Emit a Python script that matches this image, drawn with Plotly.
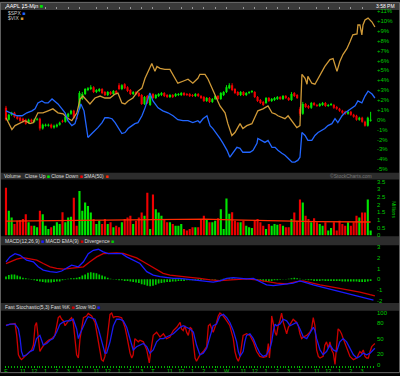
import plotly.graph_objects as go

# ---------------- data ----------------
N = 130
IDX = list(range(N))

TICK_VALS = [0, 6, 10, 14, 18, 22, 26, 32, 36, 40, 44, 48, 52, 58, 62, 66, 70, 74,
             78, 84, 88, 92, 96, 100, 104, 110, 114, 118, 122, 126]
TICK_TEXT = ["F", "11", "12", "1", "2", "3", "M", "11", "12", "1", "2", "3",
             "T", "11", "12", "1", "2", "3", "W", "11", "12", "1", "2", "3",
             "T", "11", "12", "1", "2", "3"]

AAPL_OPEN = [1.2, 0.0, 0.5, 0.7, 0.3, 0.2, 0.1, 0.0, -0.3, 0.0, -0.2, 0.0, 0.1, -0.9, -0.6, -0.6, -0.5, -0.8, -0.7, -0.5,
             -0.1, -0.2, 0.3, 0.6, 0.9, 0.2, 1.1, 2.1, 2.6, 3.0, 3.1, 3.3, 2.8, 2.9, 3.1, 2.8, 2.5, 2.8, 2.6, 2.9,
             3.5, 3.1, 3.6, 3.3, 3.0, 2.6, 2.8, 2.7, 2.5, 1.6, 2.4, 1.5, 2.6, 2.2, 2.4, 2.5, 2.7, 2.5, 2.3, 2.5,
             2.4, 2.5, 2.5, 2.7, 2.6, 2.6, 2.5, 2.4, 2.6, 2.4, 2.3, 1.9, 2.2, 1.8, 2.1, 2.4, 2.1, 2.5, 2.8, 3.2,
             3.5, 3.1, 2.8, 2.5, 2.8, 2.5, 2.7, 2.8, 2.8, 2.3, 2.0, 1.8, 1.7, 2.2, 1.9, 2.0, 2.1, 2.3, 2.1, 2.4,
             2.2, 2.0, 2.7, 2.5, 1.1, 0.6, 1.6, 1.4, 1.2, 1.7, 1.5, 1.4, 1.5, 1.7, 1.4, 1.5, 1.5, 1.3, 1.1, 0.9,
             0.8, 0.6, 0.8, 0.5, 0.4, 0.0, 0.2, -0.2, -0.6, -0.1]
AAPL_CLOSE = [0.0, 0.5, 0.7, 0.3, 0.1, -0.1, -0.2, -0.4, 0.0, -0.2, 0.0, 0.1, -0.9, -0.5, -0.5, -0.5, -0.8, -0.6, -0.5, -0.3,
              -0.2, 0.3, 0.6, 0.9, 0.2, 0.1, 2.7, 2.6, 3.1, 3.2, 3.3, 2.8, 3.0, 3.1, 2.7, 2.5, 2.8, 2.6, 2.9, 2.7,
              3.1, 3.5, 3.2, 2.9, 2.6, 2.8, 2.6, 2.4, 1.6, 2.3, 1.7, 2.4, 2.2, 2.5, 2.6, 2.7, 2.4, 2.3, 2.5, 2.3,
              2.6, 2.6, 2.7, 2.5, 2.5, 2.4, 2.4, 2.6, 2.4, 2.2, 1.9, 2.2, 1.8, 2.1, 2.4, 2.1, 2.7, 2.8, 3.3, 3.5,
              3.0, 2.7, 2.5, 2.8, 2.5, 2.7, 2.8, 2.9, 2.3, 1.9, 1.7, 1.5, 2.2, 1.9, 2.1, 2.2, 2.3, 2.1, 2.4, 2.2,
              2.0, 2.6, 2.4, 2.2, 0.6, 1.6, 1.3, 1.2, 1.7, 1.5, 1.4, 1.6, 1.7, 1.4, 1.5, 1.6, 1.2, 1.1, 0.9, 0.7,
              0.6, 0.8, 0.5, 0.3, 0.0, 0.2, -0.2, -0.6, 0.2, 0.0]
AAPL_HIGH = [1.4, 0.6, 0.8, 0.8, 0.4, 0.3, 0.2, 0.1, 0.1, 0.1, 0.1, 0.2, 0.2, -0.4, -0.4, -0.4, -0.4, -0.5, -0.4, -0.2,
             0.0, 0.4, 0.7, 1.0, 1.0, 0.3, 2.9, 2.8, 3.2, 3.3, 3.5, 3.4, 3.1, 3.2, 3.2, 2.9, 2.9, 2.9, 3.0, 3.0,
             3.7, 3.6, 3.7, 3.4, 3.1, 2.9, 2.9, 2.8, 2.6, 2.4, 2.5, 2.5, 2.7, 2.6, 2.7, 2.8, 2.8, 2.6, 2.6, 2.6,
             2.7, 2.7, 2.8, 2.8, 2.7, 2.7, 2.6, 2.7, 2.7, 2.5, 2.4, 2.3, 2.3, 2.2, 2.5, 2.5, 2.8, 2.9, 3.5, 3.7,
             3.7, 3.2, 2.9, 2.9, 2.9, 2.8, 2.9, 3.0, 2.9, 2.4, 2.1, 1.9, 2.3, 2.3, 2.2, 2.3, 2.4, 2.4, 2.5, 2.5,
             2.3, 2.8, 2.8, 2.6, 1.3, 1.8, 1.7, 1.5, 1.8, 1.8, 1.6, 1.7, 1.8, 1.8, 1.6, 1.7, 1.6, 1.4, 1.2, 1.0,
             0.9, 0.9, 0.9, 0.6, 0.5, 0.3, 0.3, -0.1, 0.3, 0.8]
AAPL_LOW = [-0.1, -0.1, 0.4, 0.2, 0.0, -0.2, -0.3, -0.5, -0.4, -0.3, -0.3, -0.1, -1.1, -1.0, -0.7, -0.7, -0.9, -0.9, -0.8, -0.6,
            -0.3, -0.3, 0.2, 0.5, 0.1, 0.0, 1.0, 2.0, 2.5, 2.9, 3.0, 2.7, 2.7, 2.8, 2.6, 2.4, 2.4, 2.5, 2.5, 2.6,
            3.0, 3.0, 3.1, 2.8, 2.5, 2.5, 2.5, 2.3, 1.5, 1.5, 1.6, 1.4, 2.1, 2.1, 2.3, 2.4, 2.3, 2.2, 2.2, 2.2,
            2.3, 2.4, 2.4, 2.4, 2.4, 2.3, 2.3, 2.3, 2.3, 2.1, 1.8, 1.8, 1.7, 1.7, 2.0, 2.0, 2.0, 2.4, 2.7, 3.1,
            2.9, 2.6, 2.4, 2.4, 2.4, 2.4, 2.6, 2.7, 2.2, 1.8, 1.6, 1.4, 1.6, 1.8, 1.8, 1.9, 2.0, 2.0, 2.0, 2.1,
            1.9, 1.9, 2.3, 2.1, 0.4, 0.5, 1.2, 1.1, 1.1, 1.4, 1.3, 1.3, 1.4, 1.3, 1.3, 1.4, 1.1, 1.0, 0.8, 0.6,
            0.5, 0.5, 0.4, 0.2, -0.1, -0.1, -0.3, -0.7, -0.7, -0.2]

SPX_X = [0, 2.1, 3.9, 5.7, 7.4, 9.2, 10.3, 11.3, 12.7, 13.8, 14.9, 16.3, 17.3, 18.4, 19.8, 20.9, 21.9, 23.3, 24.4, 25.5,
         26.5, 27.6, 29.0, 30.4, 31.5, 32.5, 34.0, 35.0, 36.1, 37.5, 38.6, 39.6, 41.0, 42.1, 43.2, 44.6, 45.6, 46.7, 48.1, 49.2,
         50.2, 50.9, 52.0, 53.8, 55.5, 57.3, 59.1, 60.8, 62.6, 64.4, 66.1, 67.9, 68.6, 69.7, 71.1, 72.2, 73.2, 74.6, 75.7, 76.8,
         78.2, 79.2, 80.3, 81.7, 82.8, 83.8, 85.2, 86.3, 87.4, 88.8, 89.1, 90.6, 91.6, 92.7, 94.1, 95.2, 96.2, 97.6, 98.7, 99.8,
         101.2, 102.2, 103.3, 104.0, 104.7, 105.8, 106.8, 108.2, 109.3, 110.4, 111.8, 112.8, 113.9, 115.3, 116.4, 117.4, 118.9,
         119.9, 121.0, 122.4, 123.5, 124.5, 125.9, 127.0, 128.1, 129.5, 130.5]
SPX_PCT = [0.9, 0.6, 0.4, 0.4, 0.7, 0.9, 1.1, 1.7, 1.9, 1.7, 1.7, 2.1, 1.9, 1.6, 1.1, 0.7, -0.1, -0.6, -0.4, 0.7,
           1.6, 0.9, -1.8, -1.4, -1.1, -0.8, -0.3, 0.2, 0.2, 0.1, -0.3, -0.8, -1.4, -1.3, -0.9, -0.6, -0.4, -0.3, 0.4, 1.2,
           2.1, 2.7, 1.9, 1.2, 0.9, 0.7, 0.4, 0.0, -0.1, -0.1, -0.3, -0.1, -0.3, 0.1, 0.4, -0.6, -0.9, -1.4, -1.9, -2.4,
           -3.1, -3.8, -3.3, -2.8, -2.9, -3.3, -3.3, -3.3, -3.1, -2.4, -1.9, -2.1, -2.3, -2.1, -2.8, -2.8, -3.1, -3.4, -3.6, -3.9,
           -4.3, -4.3, -4.1, -3.8, -1.3, -1.6, -2.1, -2.1, -1.6, -1.3, -1.1, -0.9, -0.6, -0.4, 0.1, -0.3, 0.4,
           0.7, 0.9, 1.2, 1.4, 1.9, 1.7, 2.4, 2.9, 2.6, 2.2]

VIX_X = [0, 2.1, 3.2, 5.0, 6.7, 8.5, 9.6, 11.3, 13.1, 14.9, 16.6, 18.4, 20.2, 21.6, 23.3, 25.1, 26.2, 27.2, 28.7, 29.7,
         31.5, 33.3, 35.0, 36.8, 38.6, 39.6, 41.0, 42.1, 43.2, 44.9, 46.7, 48.1, 49.2, 50.2, 51.6, 52.7, 53.4, 54.5, 56.2, 58.0,
         59.8, 60.8, 62.6, 64.4, 66.1, 67.9, 68.6, 70.4, 71.5, 73.2, 74.6, 75.7, 77.5, 78.5, 79.9, 81.0, 82.1, 82.8, 83.8, 85.2,
         87.0, 88.1, 89.1, 90.9, 92.7, 94.1, 95.2, 96.2, 97.6, 98.7, 99.8, 101.5, 102.9, 104.0, 104.7, 105.8, 106.5, 106.8, 108.2,
         109.3, 110.4, 111.8, 112.8, 114.6, 115.7, 117.1, 118.1, 119.2, 120.6, 121.7, 122.7, 124.2, 124.5, 125.2, 125.9, 126.3,
         127.0, 128.1, 129.5, 130.5]
VIX_PCT = [0.2, -1.0, -0.6, -0.3, -0.1, -0.4, -0.3, 0.7, 0.7, 0.9, 1.1, 0.7, 0.6, 0.2, -0.1, 0.7, 2.1, 2.4, 1.9, 1.6,
           2.2, 2.4, 2.2, 2.2, 2.6, 2.7, 1.7, 1.6, 1.9, 2.2, 2.9, 3.2, 4.2, 4.9, 5.7, 4.9, 5.4, 5.2, 5.1, 5.1,
           4.2, 3.7, 3.9, 4.1, 3.7, 4.2, 4.6, 4.6, 4.1, 2.9, 2.1, 1.4, 0.7, -0.4, -1.6, -1.3, -0.8, -0.4, -0.9, -0.6,
           -0.4, 0.2, 0.9, 1.1, 1.4, 0.7, 0.6, 0.4, 0.2, 0.1, 0.4, -0.3, -0.8, -0.6, 4.6, 4.2, 3.6, 4.4, 3.7,
           3.6, 4.2, 4.9, 5.4, 6.1, 6.2, 4.9, 5.9, 6.6, 7.2, 7.9, 8.6, 8.7, 9.6, 9.6, 8.6, 9.6,
           10.1, 10.3, 9.9, 9.4]

VOLUME_M = [3.1, 1.59, 1.16, 0.73, 0.94, 0.98, 1.05, 1.37, 0.84, 0.62, 0.62, 0.52, 1.59, 1.37, 0.62, 0.41, 0.52, 0.62, 0.84, 0.73,
            1.5, 0.84, 1.16, 1.2, 2.45, 0.62,
            2.88, 1.59, 2.13, 1.9, 1.48, 1.05, 0.73, 0.94, 0.73, 1.05, 0.73, 0.84, 0.52, 0.62, 0.52, 0.84, 1.05, 1.16, 1.27, 0.73,
            0.94, 1.16, 1.48, 1.27, 2.77, 0.41,
            2.66, 1.7, 1.48, 1.27, 1.05, 0.84, 0.84, 0.73, 0.62, 0.62, 0.73, 0.41, 0.3, 0.41, 0.52, 0.52, 0.52, 1.05, 1.27, 1.05,
            0.84, 0.84, 0.94, 1.1, 1.7, 0.41,
            2.39, 1.4, 1.5, 0.94, 0.84, 0.84, 0.94, 0.62, 0.52, 0.46, 0.94, 1.05, 0.84, 0.62, 0.41, 0.73, 0.62, 0.73, 0.68, 0.73,
            0.62, 0.52, 0.52, 1.05, 1.48, 0.94,
            2.33, 2.13, 1.27, 1.05, 0.84, 1.1, 0.84, 0.73, 0.62, 0.84, 0.3, 0.46, 0.84, 0.3, 0.94, 0.73, 0.62, 0.84, 0.62, 0.84,
            1.27, 1.16, 1.48, 1.48, 2.33, 0.3]
VOLUME_UP = ("RGGRRRRRGRGGRGGGRGGGRGGGRR"
             "GGGGGRGGRRGRGRRGRRRGRRRGRG"
             "RGGGRRGRGGGRRRRGRRRGRGGRGG"
             "GGRRRGRGGGRRRRGRGGGRGRRGRR"
             "RGRRGRRGGRGGRRRRRGRRRGRRGG")
SMA_X = [0, 15, 30, 50, 70, 80, 95, 110, 129]
SMA_M = [0.92, 0.95, 1.0, 1.05, 1.05, 1.0, 0.93, 0.88, 0.86]

MACD_X = [0, 1.4, 3.2, 5.0, 7.3, 9.7, 11.4, 13.2, 15.6, 17.9, 19.7, 21.5, 23.2, 25.6, 27.4, 29.1, 30.9, 32.7, 34.4, 36.2,
          38.6, 41.0, 42.7, 45.0, 47.4, 49.8, 52.1, 54.5, 56.8, 59.2, 61.5, 63.9, 66.3, 68.6, 71.0, 73.3, 75.7, 78.1, 80.4, 82.8,
          85.1, 87.5, 89.8, 92.2, 94.6, 96.9, 99.3, 101.6, 104.0, 106.4, 108.7, 111.1, 113.4, 115.8, 118.2, 120.5, 122.9, 125.2,
          127.6, 130.0]
MACD_V = [1.61, 2.06, 2.36, 2.21, 1.76, 1.61, 1.15, 0.85, 0.70, 0.64, 0.76, 1.06, 1.30, 1.15, 1.61, 2.36, 2.67, 2.76, 2.52, 2.36,
          2.36, 2.36, 2.06, 1.76, 1.45, 0.70, 0.39, 0.24, 0.15, 0.09, 0.09, 0.03, -0.06, -0.15, -0.21, -0.27, -0.15, 0.09, 0.15, 0.09,
          0.03, 0.09, -0.21, -0.52, -0.58, -0.52, -0.45, -0.36, -0.15, -0.36, -0.52, -0.67, -0.82, -0.97, -1.12, -1.27, -1.42, -1.58,
          -1.73, -1.91]
SIGNAL_X = [0, 1.4, 3.8, 6.1, 8.5, 10.9, 13.2, 15.6, 17.9, 20.3, 22.6, 25.0, 27.4, 29.7, 32.1, 34.4, 36.8, 39.1, 41.5, 43.9,
            46.2, 48.6, 50.9, 53.3, 55.6, 58.0, 60.4, 62.7, 65.1, 68.6, 72.2, 75.7, 80.4, 85.1, 88.7, 92.2, 95.7, 99.3, 102.8, 105.2,
            107.5, 111.1, 114.6, 118.2, 121.7, 125.2, 128.8, 130.5]
SIGNAL_V = [1.45, 1.61, 1.85, 2.0, 1.91, 1.76, 1.45, 1.15, 1.0, 0.94, 1.0, 1.06, 1.15, 1.61, 2.06, 2.36, 2.42, 2.42, 2.39, 2.21,
            1.97, 1.61, 1.24, 0.85, 0.55, 0.39, 0.30, 0.24, 0.18, 0.09, -0.06, -0.12, -0.06, 0.03, -0.06, -0.21, -0.36, -0.42, -0.21, -0.15,
            -0.30, -0.52, -0.67, -0.82, -0.97, -1.18, -1.42, -1.52]
DIVERGENCE = [0.25, 0.4, 0.45, 0.45, 0.35, 0.25, 0.15, 0.1, 0.05, -0.05, -0.1, -0.15, -0.2, -0.25, -0.3, -0.3, -0.3, -0.25, -0.2, -0.2,
              -0.1, -0.05, 0.05, 0.1, 0.1, 0.15, 0.2, 0.35, 0.45, 0.6, 0.65, 0.6, 0.55, 0.45, 0.35, 0.25, 0.15, 0.05, -0.02, -0.05,
              -0.1, -0.1, -0.15, -0.15, -0.2, -0.25, -0.3, -0.35, -0.45, -0.5, -0.6, -0.65, -0.6, -0.5, -0.4, -0.35, -0.3, -0.25, -0.25, -0.2,
              -0.2, -0.15, -0.15, -0.15, -0.1, -0.1, -0.1, -0.1, -0.1, -0.1, -0.05, -0.05, -0.05, -0.05, -0.05, 0.0, 0.03, 0.05, 0.08, 0.1,
              0.08, 0.05, 0.03, 0.02, 0.0, -0.02, 0.02, 0.0, -0.05, -0.1, -0.15, -0.2, -0.2, -0.2, -0.15, -0.1, -0.1, -0.05, -0.03, 0.02,
              0.05, 0.1, 0.15, 0.1, 0.05, 0.02, -0.05, -0.1, -0.1, -0.15, -0.15, -0.15, -0.12, -0.15, -0.15, -0.15, -0.15, -0.15, -0.15, -0.2,
              -0.2, -0.2, -0.2, -0.2, -0.2, -0.25, -0.25, -0.25, -0.2, -0.15]

FAST_K_X = [0, 1.4, 3.2, 3.8, 4.4, 5.0, 5.5, 6.7, 7.9, 9.1, 9.7, 10.3, 10.8, 11.4, 12.0, 12.6, 13.8, 15.0, 16.2, 17.3,
            18.5, 19.1, 19.7, 20.3, 20.9, 22.1, 23.2, 23.8, 25.0, 25.6, 26.2, 27.4, 28.5, 29.1, 30.3, 31.5, 32.1, 32.7, 33.3, 33.8,
            34.4, 35.0, 35.6, 36.2, 36.8, 37.4, 38.0, 38.6, 39.7, 40.9, 42.1, 42.7, 43.3, 43.9, 44.5, 45.0, 45.6, 46.2, 46.8, 47.4,
            48.6, 49.8, 50.7, 51.2, 52.1, 53.3, 54.5, 55.7, 56.8, 58.0, 59.2, 60.4, 61.6, 62.1, 62.7, 63.3, 63.9, 64.5, 65.1, 65.7,
            66.3, 66.9, 67.4, 68.6,
            69.8, 71.0, 71.6, 72.2, 72.8, 73.3, 74.5, 75.1, 75.7, 76.9, 78.1, 79.2, 80.4, 81.0, 81.6, 82.2, 82.8, 83.4, 83.9, 85.1,
            86.3, 87.5, 88.7, 89.8, 91.0, 92.2, 92.8, 93.2, 93.6, 94.0, 94.6, 95.2, 95.7, 96.3, 96.9, 97.5, 98.1, 98.7, 99.3, 99.9,
            100.5, 101.1, 101.6, 102.8, 103.4, 104.0, 104.6, 105.2, 106.4, 107.5, 108.1, 108.7, 109.3, 109.9, 110.5, 111.1, 112.2,
            112.8, 113.4, 114.0, 114.6, 115.2, 115.8, 116.4, 117.0, 117.5, 118.1, 118.7, 119.3, 120.5, 121.7, 122.9, 124.1, 125.2,
            125.8, 126.4, 127.0, 127.6, 128.2, 128.8, 129.4, 129.9, 130.5]
FAST_K = [76.8, 78.6, 79.9, 56.8, 19.3, 13, 9.9, 16.1, 22.4, 28.6, 38, 75.5, 81.8, 50.5, 25.5, 31.8, 41.1, 47.4, 50.5, 56.8,
          91.1, 94.3, 88, 84.9, 75.5, 84.9, 91.1, 81.8, 19.3, 13, 50.5, 91.1, 94.3, 99.3, 94.3, 81.8, 63, 44.3, 22.4, 9.9,
          6.8, 16.1, 41.1, 75.5, 97.4, 100, 91.1, 93, 93, 91.1, 72.4, 56.8, 38, 22.4, 13, 19.3, 50.5, 47.4, 44.3, 47.4,
          44.3, 28.6, 3.6, 25.5, 56.8, 63, 53.6, 59.9, 50.5, 53.6, 66.1, 72.4, 81.8, 69.3, 66.1, 75.5, 63, 56.8, 72.4, 69.3,
          34.9, 13, 6.8, 19,
          25.5, 34.9, 75.5, 78.6, 69.3, 63, 81.8, 94.3, 100, 94.3, 84.9, 75.5, 50.5, 25.5, 13, 6.8, 16.1, 44.3, 56.8, 59.9,
          56.8, 44.3, 25.5, 16.1, 14.3, 16.1, 41.1, 13, 38, 94.3, 75.5, 63, 56.8, 75.5, 84.9, 100, 81.8, 69.3, 59.9, 72.4,
          78.6, 84.9, 88, 81.8, 75.5, 59.9, 50.5, 53.6, 56.8, 63, 69.3, 91.1, 75.5, 28.6, 16.1, 13, 16.1,
          38, 44.3, 31.8, 44.3, 28.6, 22.4, 0.5, 44.3, 69.3, 66.1, 59.9, 50.5, 31.8, 16.1, 9.9, 13, 25.5,
          22.4, 28.6, 16.1, 13, 13, 25.5, 34.9, 38, 41.1]
SLOW_D_X = [0, 1.4, 3.2, 4.4, 5.0, 5.5, 6.1, 7.3, 8.5, 9.7, 10.8, 12.0, 13.2, 14.4, 15.6, 16.7, 17.9, 19.1, 20.3, 21.5,
            22.6, 23.8, 25.0, 25.6, 26.2, 27.4, 28.5, 29.1, 30.3, 31.5, 32.7, 33.8, 35.0, 35.6, 36.8, 38.0, 39.1, 40.3, 41.5, 42.7,
            43.9, 45.0, 46.2, 47.4, 48.6, 49.8, 50.9, 52.1, 53.3, 54.5, 55.7, 56.8, 58.0, 59.2, 60.4, 61.6, 62.7, 63.9, 65.1, 66.3,
            67.4,
            68.6, 69.8, 71.0, 72.2, 73.3, 74.5, 75.7, 76.9, 78.1, 79.2, 80.4, 81.6, 82.2, 82.8, 83.9, 84.5, 85.1, 86.3, 87.5, 88.7,
            89.8, 91.0, 92.2, 93.4, 94.0, 94.6, 95.2, 95.7, 96.9, 98.1, 99.3, 100.5, 101.6, 102.8, 104.0, 104.6, 105.2, 106.4, 107.5,
            108.7, 109.3, 109.9, 111.1, 112.2, 113.4, 114.6, 115.8, 117.0, 118.1, 119.3, 120.5, 121.7, 122.9, 124.1, 125.2, 126.4,
            127.6, 128.8, 129.9, 130.5]
SLOW_D = [75.5, 78.6, 78.6, 69.3, 50.5, 25.5, 16.1, 19.3, 25.5, 28.6, 50.5, 56.8, 38, 41.1, 47.4, 50.5, 63, 78.6, 83, 84.9,
          84.9, 88, 69.3, 50.5, 59.9, 75.5, 88, 93, 91.1, 88, 69.3, 44.3, 22.4, 22.4, 44.3, 75.5, 88, 88, 84.9, 72.4,
          50.5, 28.6, 34.9, 38, 41.1, 34.9, 22.4, 28.6, 44.3, 50.5, 50.5, 53.6, 56.8, 59.9, 66.1, 72.4, 75.5, 72.4, 69.3, 63,
          38,
          19.3, 22.4, 31.8, 56.8, 75.5, 78.6, 94.3, 97.4, 91.1, 81.8, 66.1, 44.3, 25.5, 16.1, 25.5, 44.3, 56.8, 59.9, 50.5, 34.9,
          22.4, 16.1, 19.3, 31.8, 44.3, 66.1, 78.6, 75.5, 78.6, 88, 84.9, 75.5, 78.6, 81.8, 69.3, 59.9, 53.6, 50.5, 59.9,
          72.4, 66.1, 50.5, 28.6, 19.3, 25.5, 38, 28.6, 25.5, 44.3, 50.5, 44.3, 31.8, 19.3, 13, 16.1, 22.4,
          19.3, 22.4, 28.6, 31.8]

MAIN_TICKS = list(range(-5, 12))
VOL_TICKS = [0, 0.5, 1, 1.5, 2, 2.5, 3, 3.5]
MACD_TICKS = [-2, -1, 0, 1, 2, 3]
STOCH_TICKS = [0, 20, 50, 80, 100]

# ---------------- styling / layout helpers ----------------
W, H = 400, 376
UP_C, DN_C = "#00e600", "#ee0000"
GREEN_TXT = "#00cc00"
FONT = "Liberation Sans"


def fx(p):
    return p / W


def fy(p):
    return 1 - p / H


XRANGE = [-0.7, 130.9]
XDOM = [fx(4), fx(376)]

fig = go.Figure()

# --- main panel: candles ---
body_col = [UP_C if c >= o else DN_C for o, c in zip(AAPL_OPEN, AAPL_CLOSE)]
body_base = [min(o, c) for o, c in zip(AAPL_OPEN, AAPL_CLOSE)]
body_len = [max(abs(c - o), 0.05) for o, c in zip(AAPL_OPEN, AAPL_CLOSE)]
for col in (UP_C, DN_C):
    wx, wy = [], []
    for i in IDX:
        if body_col[i] == col:
            wx += [i, i, None]
            wy += [AAPL_LOW[i], AAPL_HIGH[i], None]
    fig.add_trace(go.Scatter(x=wx, y=wy, mode="lines", line=dict(color=col, width=1),
                             xaxis="x", yaxis="y", hoverinfo="skip"))
fig.add_trace(go.Bar(x=IDX, y=body_len, base=body_base, width=0.75,
                     marker=dict(color=body_col, line=dict(width=0)), xaxis="x", yaxis="y"))
fig.add_trace(go.Scatter(x=VIX_X, y=VIX_PCT, mode="lines", line=dict(color="#d09a38", width=1.3),
                         xaxis="x", yaxis="y"))
fig.add_trace(go.Scatter(x=SPX_X, y=SPX_PCT, mode="lines", line=dict(color="#2266ff", width=1.3),
                         xaxis="x", yaxis="y"))

# --- volume ---
vol_col = [UP_C if u == "G" else DN_C for u in VOLUME_UP]
fig.add_trace(go.Bar(x=IDX, y=VOLUME_M, width=0.75, marker=dict(color=vol_col, line=dict(width=0)),
                     xaxis="x2", yaxis="y2"))
fig.add_trace(go.Scatter(x=SMA_X, y=SMA_M, mode="lines", line=dict(color="#ff2a00", width=1.3),
                         xaxis="x2", yaxis="y2"))

# --- MACD ---
fig.add_trace(go.Bar(x=IDX, y=DIVERGENCE, width=0.6, marker=dict(color="#00cc00", line=dict(width=0)),
                     xaxis="x3", yaxis="y3"))
fig.add_trace(go.Scatter(x=SIGNAL_X, y=SIGNAL_V, mode="lines", line=dict(color="#cc0000", width=1.3),
                         xaxis="x3", yaxis="y3"))
fig.add_trace(go.Scatter(x=MACD_X, y=MACD_V, mode="lines", line=dict(color="#1a1aff", width=1.3),
                         xaxis="x3", yaxis="y3"))

# --- Stochastics ---
fig.add_trace(go.Scatter(x=FAST_K_X, y=FAST_K, mode="lines", line=dict(color="#cc0000", width=1.3),
                         xaxis="x4", yaxis="y4"))
fig.add_trace(go.Scatter(x=SLOW_D_X, y=SLOW_D, mode="lines", line=dict(color="#1a1aee", width=1.3),
                         xaxis="x4", yaxis="y4"))


def fmt_pct(v):
    if v > 0:
        return "+%d%%" % v
    if v == 0:
        return "0%"
    return "%d%%" % v


def yax(dom_px, rng, tickvals, ticktext, anchor):
    return dict(domain=[fy(dom_px[1]), fy(dom_px[0])], range=rng, anchor=anchor, side="right",
                showgrid=False, zeroline=False, showline=False, ticks="",
                tickvals=tickvals, ticktext=ticktext,
                tickfont=dict(size=6, color=GREEN_TXT, family=FONT), fixedrange=True)


def xax(dom_y_anchor, **kw):
    d = dict(domain=XDOM, range=XRANGE, anchor=dom_y_anchor, showgrid=False, zeroline=False,
             showline=False, showticklabels=False, ticks="", fixedrange=True)
    d.update(kw)
    return d


bands = [(0, 8, "#3a3a3a"), (173, 180, "#2c2c2c"), (237.5, 246.5, "#2c2c2c"), (305, 313, "#2c2c2c")]
shapes = []
for y0, y1, c in bands:
    shapes.append(dict(type="rect", xref="paper", yref="paper", x0=0, x1=1, y0=fy(y1), y1=fy(y0),
                       fillcolor=c, line=dict(width=0), layer="below"))
shapes.append(dict(type="rect", xref="paper", yref="paper", x0=0.001, x1=0.999, y0=0.001, y1=0.999,
                   fillcolor="rgba(0,0,0,0)", line=dict(color="#6a6a6a", width=1)))


def note(x, y, text, size=5.5, color="#dddddd", anchor="left", angle=0):
    return dict(x=fx(x), y=fy(y), xref="paper", yref="paper", text=text, showarrow=False,
                xanchor=anchor, yanchor="middle", textangle=angle,
                font=dict(size=size, color=color, family=FONT))


def sw(c):
    return "<span style='color:%s'>■</span>" % c


annotations = [
    note(4, 4, "AAPL 15-Min " + sw(UP_C), size=5.5, color="#ffffff"),
    note(397, 4, "3:58 PM", size=5, color="#ffffff", anchor="right"),
    note(6, 11.5, "$SPX " + sw("#2266ff"), size=5, color="#cccccc"),
    note(6, 16, "$VIX " + sw("#d09a38"), size=5, color="#cccccc"),
    note(2, 176.5, "Volume &nbsp; Close Up " + sw(UP_C) + " Close Down " + sw(DN_C) + " SMA(50) " + sw("#ff2a00"),
         size=5),
    note(374, 176.5, "©StockCharts.com", size=5, color="#777777", anchor="right"),
    note(3, 242, "MACD(12,26,9) " + sw("#1a1aff") + " MACD EMA(9) " + sw("#cc0000") + " Divergence " + sw("#00cc00"),
         size=5),
    note(3, 309, "Fast Stochastic(5,3) Fast %K " + sw("#cc0000") + " Slow %D " + sw("#1a1aee"), size=5),
    note(394, 210, "Millions", size=5, color=GREEN_TXT, anchor="center", angle=90),
]

fig.update_layout(
    width=W, height=H, margin=dict(l=0, r=0, t=0, b=0),
    paper_bgcolor="black", plot_bgcolor="black", showlegend=False,
    font=dict(family=FONT, color="#dddddd"),
    shapes=shapes, annotations=annotations,
    xaxis=xax("y", side="top", ticks="outside", ticklen=2, tickcolor="#999999", tickvals=TICK_VALS),
    xaxis2=xax("y2"),
    xaxis3=xax("y3"),
    xaxis4=xax("y4", showticklabels=True, ticks="outside", ticklen=2, tickcolor=GREEN_TXT,
               tickvals=TICK_VALS, ticktext=TICK_TEXT, ticklabelstandoff=-2,
               tickfont=dict(size=5.5, color=GREEN_TXT, family=FONT),
               minor=dict(tickmode="linear", tick0=0, dtick=1, ticks="outside", ticklen=2,
                          tickcolor="#00aa00")),
    yaxis=yax((8, 173), [-5.37, 11.13], MAIN_TICKS, [fmt_pct(v) for v in MAIN_TICKS], "x"),
    yaxis2=yax((180, 237), [-0.045, 3.63], VOL_TICKS, [("%g" % v) for v in VOL_TICKS], "x2"),
    yaxis3=yax((247, 305), [-2.18, 3.09], MACD_TICKS, [str(v) for v in MACD_TICKS], "x3"),
    yaxis4=yax((313, 368), [-0.75, 104.3], STOCH_TICKS, [str(v) for v in STOCH_TICKS], "x4"),
)

fig.write_html("out.html", config={"displayModeBar": False, "staticPlot": True},
               post_script="document.body.style.margin='0';document.body.style.overflow='hidden';")
